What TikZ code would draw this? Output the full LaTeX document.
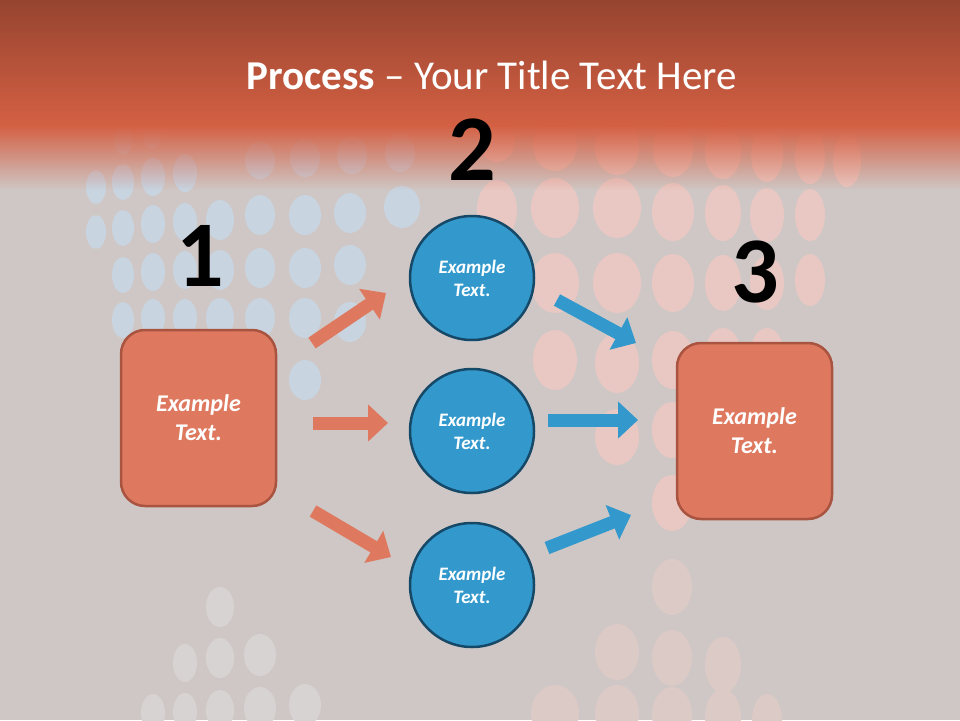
\documentclass[tikz,border=0pt]{standalone}
\usepackage{fontspec}
\setmainfont{Carlito}
\usetikzlibrary{arrows.meta,fadings}
\definecolor{bg}{RGB}{207,199,197}
\definecolor{bandtop}{RGB}{150,68,48}
\definecolor{bandmid}{RGB}{212,96,67}
\definecolor{dotblue}{RGB}{200,212,224}
\definecolor{dotpink}{RGB}{233,200,195}
\definecolor{dotpinklow}{RGB}{220,202,198}
\definecolor{dotgrey}{RGB}{216,211,211}
\definecolor{boxfill}{RGB}{222,120,95}
\definecolor{boxline}{RGB}{168,84,64}
\definecolor{circfill}{RGB}{51,153,204}
\definecolor{circline}{RGB}{22,72,104}
\tikzfading[name=fadedown, top color=transparent!0, bottom color=transparent!100]
\begin{document}
\begin{tikzpicture}[x=1pt,y=-1pt,
  boxnode/.style={draw=boxline, line width=2.5pt, fill=boxfill, rounded corners=24pt,
    minimum width=155pt, minimum height=176pt, text=white, align=center,
    font=\bfseries\itshape\fontsize{24}{29}\selectfont},
  circnode/.style={circle, draw=circline, line width=2.5pt, fill=circfill,
    minimum size=124pt, text=white, align=center,
    font=\bfseries\itshape\fontsize{19}{23}\selectfont},
  numnode/.style={font=\bfseries\fontsize{94}{94}\selectfont, text=black},
  oarrow/.style={draw=boxfill, line width=13pt, -{Triangle[length=20pt,width=36pt]}},
  barrow/.style={draw=circfill, line width=13pt, -{Triangle[length=20pt,width=36pt]}}]
% background
\fill[bg] (0,0) rectangle (960,720);
\useasboundingbox (0,0) rectangle (960,720);
% dots: blue cluster
\foreach \x/\y/\a/\b in {123/140/9/15,152/135/9/14,
  260/160/15/19,305/158/15/19,352/155/15/19,400/153/15/19,
  96/187/10/17,123/182/11/18,153/177/12/19,185/173/12/19,
  96/232/10/17,123/228/11/18,153/224/12/19,185/222/12/19,220/220/14/20,260/215/15/20,305/215/16/20,350/213/16/20,402/207/18/21,
  123/275/11/18,153/272/12/19,185/270/12/19,220/270/14/20,260/268/15/20,305/268/16/20,350/265/16/20,
  123/320/11/18,153/318/12/19,185/318/12/19,220/318/14/20,260/318/15/20,305/318/16/20,350/322/16/20,
  305/380/16/20}
  \fill[dotblue] (\x,\y) ellipse [x radius=\a, y radius=\b];
% dots: pink cluster
\foreach \x/\y/\a/\b in {497/140/18/22,555/145/22/26,617/148/22/27,673/150/20/27,723/152/18/27,767/155/16/27,810/157/15/27,847/160/14/27,
  497/210/20/30,555/208/24/30,617/208/24/30,673/212/21/29,723/213/18/28,767/215/17/27,810/215/15/26,
  555/283/24/30,617/283/24/30,673/283/21/29,723/283/18/28,767/283/17/27,810/280/15/26,
  555/360/22/30,617/363/22/30,673/360/21/29,723/355/18/27,767/355/17/27,
  617/437/22/28,672/430/20/28,672/503/20/28}
  \fill[dotpink] (\x,\y) ellipse [x radius=\a, y radius=\b];
\foreach \x/\y/\a/\b in {672/587/20/28,617/652/22/28,672/658/20/28,723/665/18/28,
  555/713/24/28,617/713/22/28,672/715/20/28,723/717/18/28,767/720/15/26}
  \fill[dotpinklow] (\x,\y) ellipse [x radius=\a, y radius=\b];
% dots: grey cluster
\foreach \x/\y/\a/\b in {220/607/14/20,185/663/12/19,220/658/14/20,260/655/16/21,
  153/713/12/19,185/712/12/19,220/710/14/20,260/708/16/21,305/705/16/21}
  \fill[dotgrey] (\x,\y) ellipse [x radius=\a, y radius=\b];
% top band
\shade[top color=bandtop, bottom color=bandmid] (0,0) rectangle (960,126);
\fill[bandmid, path fading=fadedown] (0,125) rectangle (961,190);
% title
\node (title) at (492,75) {\fontsize{41}{48}\selectfont\color{white}\textbf{Process} – Your Title Text Here};
% numbers
\node[numnode] (n1) at (200,256) {1};
\node[numnode] (n2) at (472,150) {2};
\node[numnode] (n3) at (755,272) {3};
% nodes
\node[boxnode] (b1) at (198.5,418) {Example\\Text.};
\node[boxnode] (b3) at (754.5,431) {Example\\Text.};
\node[circnode] (c1) at (472,278) {Example\\Text.};
\node[circnode] (c2) at (472,431) {Example\\Text.};
\node[circnode] (c3) at (472,585) {Example\\Text.};
% arrow endpoints
\coordinate (o1s) at (312,343); \coordinate (o1e) at (386,293);
\coordinate (o2s) at (313,423); \coordinate (o2e) at (388,423);
\coordinate (o3s) at (313,511); \coordinate (o3e) at (391,557);
\coordinate (u1s) at (557,300); \coordinate (u1e) at (636,343);
\coordinate (u2s) at (548,420); \coordinate (u2e) at (638,420);
\coordinate (u3s) at (547,548); \coordinate (u3e) at (631,515);
\draw[oarrow] (o1s) -- (o1e);
\draw[oarrow] (o2s) -- (o2e);
\draw[oarrow] (o3s) -- (o3e);
\draw[barrow] (u1s) -- (u1e);
\draw[barrow] (u2s) -- (u2e);
\draw[barrow] (u3s) -- (u3e);
\end{tikzpicture}
\end{document}
